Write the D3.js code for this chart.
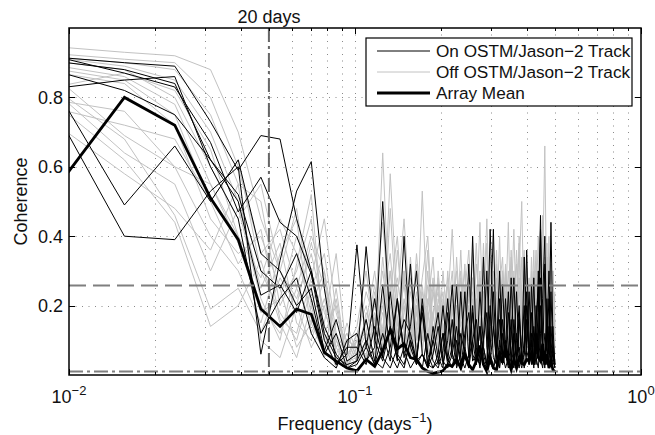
<!DOCTYPE html>
<html>
<head>
<meta charset="utf-8">
<script src="https://cdn.jsdelivr.net/npm/d3@7/dist/d3.min.js"></script>
<style>
  body { margin: 0; background: #fff; }
  svg { display: block; font-family: "Liberation Sans", Arial, Helvetica, sans-serif; }
</style>
</head>
<body>
<svg id="chart" width="655" height="435"></svg>
<script>
// Spectral bins: 128-day segments, bin spacing 1/128 cycles per day, up to Nyquist (0.5)
const binWidth = 1 / 128;
const bins = d3.range(1, 65);
const freq = bins.map(k => k * binWidth);

// Coherence of the array mean
const arrayMean = [0.47,0.80,0.72,0.51,0.39,0.19,0.14,0.19,0.175,0.065,0.04,0.02,
  0.012,0.045,0.025,0.07,0.13,0.075,0.09,0.05,0.045,0.02,0.01,0.005,0.008,
  0.012,0.03,0.025,0.045,0.02,0.06,0.03,0.015,0.04,0.085,0.03,0.01,0.05,
  0.02,0.015,0.06,0.035,0.085,0.04,0.015,0.045,0.02,0.05,0.035,0.03,0.045,
  0.04,0.06,0.03,0.12,0.05,0.04,0.09,0.03,0.06,0.02,0.04,0.015,0.01];

// Moorings on the OSTM/Jason-2 ground track
const onTrack1 = [0.92,0.90,0.89,0.73,0.59,0.69,0.68,0.45,0.30,0.12,0.05,0.03,
  0.04,0.10,0.03,0.26,0.06,0.02,0.08,0.32,0.05,0.02,0.12,0.04,0.02,
  0.07,0.22,0.05,0.03,0.12,0.06,0.03,0.40,0.08,0.02,0.10,0.18,0.04,
  0.02,0.08,0.30,0.06,0.02,0.05,0.16,0.04,0.12,0.06,0.03,0.10,0.36,
  0.08,0.03,0.14,0.06,0.30,0.05,0.02,0.12,0.07,0.22,0.04,0.06,0.03];
const onTrack2 = [0.93,0.87,0.83,0.67,0.47,0.57,0.44,0.40,0.29,0.10,0.03,0.06,
  0.375,0.08,0.03,0.12,0.04,0.22,0.07,0.02,0.05,0.18,0.03,0.02,0.06,
  0.20,0.05,0.02,0.10,0.03,0.07,0.32,0.06,0.03,0.14,0.04,0.02,0.08,
  0.24,0.05,0.02,0.16,0.06,0.03,0.10,0.28,0.05,0.02,0.08,0.20,0.05,
  0.03,0.26,0.08,0.03,0.10,0.42,0.06,0.02,0.10,0.30,0.04,0.08,0.03];
const onTrack3 = [0.89,0.82,0.75,0.62,0.52,0.30,0.25,0.35,0.22,0.06,0.12,0.02,
  0.04,0.37,0.10,0.04,0.14,0.05,0.02,0.10,0.03,0.22,0.06,0.02,0.04,
  0.12,0.03,0.08,0.26,0.05,0.02,0.06,0.18,0.04,0.24,0.08,0.03,0.42,
  0.14,0.03,0.10,0.04,0.22,0.06,0.02,0.16,0.05,0.08,0.03,0.34,0.07,
  0.04,0.12,0.03,0.20,0.06,0.28,0.08,0.03,0.16,0.05,0.24,0.06,0.02];
const onTrack4 = [0.82,0.85,0.86,0.60,0.45,0.12,0.22,0.28,0.12,0.05,0.02,0.10,
  0.12,0.04,0.08,0.50,0.14,0.04,0.40,0.08,0.03,0.06,0.02,0.10,0.18,
  0.04,0.02,0.06,0.14,0.03,0.08,0.02,0.20,0.05,0.03,0.10,0.30,0.06,
  0.02,0.05,0.16,0.04,0.08,0.24,0.05,0.02,0.10,0.20,0.04,0.06,0.16,
  0.03,0.08,0.28,0.05,0.02,0.12,0.22,0.40,0.06,0.03,0.14,0.05,0.02];
const onTrack5 = [0.91,0.49,0.66,0.50,0.62,0.35,0.30,0.20,0.25,0.07,0.16,0.04,
  0.06,0.16,0.04,0.02,0.08,0.22,0.05,0.14,0.30,0.06,0.03,0.10,0.03,
  0.12,0.04,0.16,0.02,0.06,0.24,0.05,0.10,0.03,0.14,0.06,0.02,0.20,
  0.05,0.03,0.08,0.26,0.06,0.02,0.05,0.12,0.03,0.18,0.06,0.02,0.10,
  0.24,0.05,0.03,0.08,0.18,0.46,0.04,0.07,0.03,0.14,0.08,0.03,0.04];
const onTrack6 = [0.85,0.40,0.39,0.53,0.60,0.06,0.33,0.53,0.615,0.25,0.03,0.08,
  0.08,0.03,0.14,0.05,0.24,0.06,0.03,0.10,0.04,0.20,0.02,0.06,0.14,
  0.03,0.10,0.26,0.05,0.02,0.12,0.18,0.04,0.06,0.03,0.34,0.08,0.03,
  0.14,0.05,0.22,0.03,0.10,0.04,0.28,0.06,0.02,0.16,0.04,0.08,0.24,
  0.05,0.18,0.03,0.10,0.05,0.20,0.04,0.32,0.08,0.03,0.06,0.14,0.03];
const onTrack7 = [0.91,0.88,0.84,0.62,0.50,0.23,0.26,0.18,0.30,0.14,0.06,0.02,
  0.03,0.08,0.22,0.05,0.02,0.08,0.16,0.12,0.04,0.06,0.02,0.14,0.05,
  0.02,0.18,0.06,0.03,0.24,0.05,0.02,0.10,0.16,0.04,0.08,0.03,0.14,
  0.42,0.06,0.02,0.12,0.05,0.18,0.03,0.08,0.24,0.05,0.02,0.06,0.20,
  0.04,0.10,0.02,0.16,0.26,0.05,0.08,0.03,0.22,0.06,0.44,0.10,0.03];

// Moorings away from the ground track
const offTrack1 = [0.95,0.93,0.92,0.88,0.70,0.45,0.30,0.22,0.35,0.18,0.10,0.05,
  0.12,0.20,0.08,0.64,0.14,0.05,0.22,0.10,0.35,0.16,0.06,0.24,0.12,
  0.04,0.18,0.30,0.10,0.22,0.15,0.06,0.20,0.12,0.28,0.08,0.16,0.34,
  0.10,0.22,0.05,0.14,0.30,0.18,0.08,0.26,0.12,0.40,0.16,0.06,0.20,
  0.28,0.10,0.24,0.14,0.20,0.08,0.30,0.66,0.16,0.06,0.22,0.10,0.14];
const offTrack2 = [0.93,0.91,0.90,0.80,0.60,0.35,0.42,0.25,0.15,0.28,0.06,0.12,
  0.05,0.15,0.30,0.10,0.58,0.20,0.08,0.14,0.04,0.26,0.10,0.18,0.06,
  0.22,0.12,0.05,0.16,0.30,0.08,0.20,0.12,0.04,0.25,0.14,0.38,0.10,
  0.18,0.06,0.24,0.12,0.32,0.08,0.20,0.14,0.05,0.28,0.10,0.22,0.16,
  0.06,0.30,0.12,0.20,0.40,0.10,0.16,0.26,0.08,0.34,0.14,0.20,0.10];
const offTrack3 = [0.92,0.90,0.88,0.75,0.55,0.50,0.20,0.30,0.45,0.12,0.20,0.04,
  0.06,0.08,0.24,0.12,0.30,0.06,0.18,0.28,0.10,0.53,0.14,0.05,0.20,
  0.10,0.26,0.12,0.06,0.18,0.32,0.10,0.22,0.14,0.05,0.20,0.45,0.12,
  0.08,0.28,0.14,0.20,0.06,0.16,0.34,0.10,0.24,0.08,0.18,0.12,0.30,
  0.14,0.06,0.22,0.36,0.12,0.18,0.08,0.26,0.14,0.40,0.12,0.06,0.18];
const offTrack4 = [0.92,0.89,0.85,0.70,0.50,0.25,0.38,0.15,0.10,0.22,0.08,0.02,
  0.10,0.12,0.06,0.18,0.10,0.36,0.14,0.05,0.20,0.12,0.30,0.08,0.16,
  0.06,0.20,0.42,0.12,0.08,0.24,0.14,0.05,0.18,0.30,0.10,0.16,0.26,
  0.12,0.36,0.08,0.20,0.14,0.06,0.26,0.18,0.10,0.30,0.50,0.14,0.08,
  0.22,0.12,0.30,0.06,0.18,0.28,0.10,0.20,0.34,0.12,0.24,0.08,0.16];
const offTrack5 = [0.91,0.88,0.80,0.60,0.45,0.55,0.30,0.48,0.20,0.05,0.15,0.10,
  0.08,0.06,0.14,0.30,0.12,0.22,0.45,0.16,0.08,0.24,0.12,0.06,0.30,
  0.14,0.08,0.22,0.12,0.36,0.10,0.18,0.28,0.06,0.16,0.22,0.10,0.30,
  0.20,0.14,0.40,0.10,0.24,0.16,0.06,0.20,0.32,0.12,0.18,0.08,0.26,
  0.10,0.34,0.16,0.08,0.24,0.14,0.46,0.12,0.20,0.08,0.28,0.16,0.06];
const offTrack6 = [0.90,0.86,0.78,0.55,0.40,0.20,0.12,0.25,0.40,0.30,0.05,0.02,
  0.08,0.16,0.04,0.22,0.35,0.10,0.20,0.06,0.14,0.28,0.40,0.12,0.08,
  0.20,0.14,0.06,0.24,0.16,0.30,0.10,0.18,0.38,0.12,0.06,0.22,0.14,
  0.26,0.10,0.18,0.06,0.28,0.12,0.20,0.42,0.14,0.08,0.24,0.16,0.10,
  0.18,0.26,0.08,0.30,0.14,0.22,0.10,0.16,0.38,0.12,0.20,0.26,0.08];
const offTrack7 = [0.89,0.85,0.75,0.50,0.62,0.30,0.18,0.10,0.25,0.35,0.12,0.06,
  0.03,0.10,0.20,0.44,0.16,0.06,0.12,0.26,0.18,0.08,0.20,0.34,0.10,
  0.16,0.28,0.10,0.20,0.06,0.14,0.26,0.12,0.32,0.18,0.10,0.24,0.16,
  0.08,0.20,0.12,0.30,0.18,0.44,0.10,0.14,0.22,0.06,0.34,0.20,0.12,
  0.24,0.14,0.08,0.20,0.30,0.16,0.24,0.12,0.20,0.30,0.10,0.16,0.22];
const offTrack8 = [0.88,0.84,0.72,0.45,0.35,0.40,0.25,0.08,0.15,0.06,0.25,0.03,
  0.12,0.05,0.18,0.10,0.24,0.40,0.12,0.06,0.20,0.10,0.16,0.28,0.08,
  0.30,0.12,0.20,0.08,0.16,0.26,0.12,0.36,0.10,0.18,0.08,0.28,0.14,
  0.20,0.10,0.26,0.34,0.12,0.20,0.08,0.16,0.24,0.38,0.12,0.20,0.14,
  0.08,0.22,0.12,0.32,0.20,0.10,0.26,0.14,0.22,0.10,0.18,0.30,0.12];
const offTrack9 = [0.90,0.69,0.60,0.40,0.30,0.15,0.35,0.45,0.12,0.20,0.05,0.08,
  0.14,0.30,0.10,0.20,0.06,0.16,0.26,0.10,0.32,0.14,0.06,0.18,0.24,
  0.10,0.16,0.06,0.34,0.14,0.20,0.10,0.24,0.16,0.44,0.12,0.18,0.08,
  0.26,0.14,0.10,0.22,0.18,0.30,0.12,0.20,0.10,0.16,0.26,0.36,0.12,
  0.18,0.10,0.28,0.14,0.22,0.36,0.12,0.20,0.10,0.24,0.14,0.30,0.10];
const offTrack10 = [0.86,0.64,0.55,0.30,0.48,0.22,0.10,0.32,0.52,0.10,0.03,0.15,
  0.06,0.12,0.26,0.08,0.48,0.14,0.30,0.10,0.18,0.06,0.22,0.12,0.16,
  0.24,0.08,0.18,0.12,0.28,0.10,0.20,0.14,0.08,0.22,0.30,0.12,0.18,
  0.10,0.32,0.16,0.12,0.24,0.10,0.36,0.14,0.22,0.12,0.18,0.28,0.10,
  0.20,0.14,0.36,0.10,0.24,0.18,0.14,0.28,0.12,0.18,0.32,0.14,0.10];
const offTrack11 = [0.86,0.68,0.46,0.19,0.25,0.12,0.28,0.20,0.08,0.15,0.35,0.05,
  0.10,0.04,0.16,0.22,0.08,0.12,0.30,0.18,0.06,0.14,0.36,0.10,0.20,
  0.12,0.22,0.08,0.18,0.10,0.24,0.36,0.14,0.20,0.10,0.16,0.30,0.12,
  0.22,0.08,0.18,0.26,0.12,0.16,0.28,0.10,0.20,0.14,0.24,0.10,0.34,
  0.16,0.12,0.20,0.26,0.10,0.30,0.16,0.22,0.10,0.26,0.16,0.12,0.20];
const offTrack12 = [0.82,0.62,0.44,0.14,0.20,0.33,0.15,0.05,0.20,0.30,0.10,0.02,
  0.08,0.08,0.06,0.14,0.26,0.10,0.08,0.34,0.12,0.20,0.08,0.16,0.28,
  0.06,0.14,0.20,0.10,0.24,0.08,0.18,0.12,0.26,0.10,0.38,0.14,0.20,
  0.12,0.24,0.10,0.18,0.08,0.22,0.14,0.30,0.12,0.20,0.10,0.16,0.24,
  0.12,0.20,0.10,0.18,0.28,0.12,0.20,0.34,0.14,0.22,0.10,0.18,0.12];
const offTrack13 = [0.82,0.87,0.82,0.65,0.40,0.28,0.45,0.35,0.18,0.08,0.22,0.04,
  0.05,0.10,0.06,0.34,0.12,0.20,0.08,0.14,0.24,0.10,0.18,0.06,0.22,
  0.14,0.10,0.26,0.16,0.08,0.20,0.12,0.28,0.18,0.10,0.24,0.14,0.22,
  0.16,0.10,0.20,0.28,0.14,0.24,0.12,0.18,0.36,0.14,0.22,0.12,0.20,
  0.26,0.14,0.18,0.12,0.24,0.16,0.32,0.14,0.22,0.16,0.26,0.12,0.16];
const offTrack14 = [0.80,0.76,0.60,0.55,0.38,0.18,0.22,0.40,0.30,0.12,0.02,0.10,
  0.04,0.18,0.12,0.08,0.20,0.28,0.14,0.06,0.22,0.12,0.10,0.26,0.14,
  0.08,0.30,0.14,0.20,0.10,0.16,0.22,0.10,0.18,0.26,0.12,0.20,0.14,
  0.30,0.12,0.20,0.16,0.10,0.26,0.14,0.20,0.12,0.24,0.16,0.12,0.22,
  0.14,0.28,0.12,0.20,0.16,0.26,0.12,0.24,0.16,0.20,0.14,0.28,0.14];
const offTrack15 = [0.78,0.72,0.68,0.50,0.32,0.42,0.16,0.12,0.28,0.45,0.18,0.06,
  0.10,0.24,0.16,0.10,0.20,0.08,0.28,0.12,0.18,0.10,0.26,0.14,0.08,
  0.20,0.12,0.18,0.30,0.14,0.10,0.24,0.16,0.22,0.12,0.18,0.26,0.10,
  0.20,0.14,0.28,0.12,0.22,0.18,0.12,0.26,0.16,0.20,0.14,0.30,0.12,
  0.20,0.16,0.24,0.14,0.20,0.28,0.16,0.24,0.12,0.22,0.18,0.14,0.24];
const offTrack16 = [0.76,0.58,0.48,0.36,0.55,0.10,0.05,0.20,0.38,0.25,0.08,0.12,
  0.05,0.08,0.22,0.12,0.30,0.16,0.10,0.24,0.14,0.20,0.08,0.18,0.26,
  0.12,0.20,0.14,0.24,0.10,0.18,0.28,0.12,0.20,0.16,0.24,0.12,0.18,
  0.14,0.22,0.12,0.30,0.16,0.20,0.12,0.24,0.18,0.14,0.26,0.16,0.12,
  0.22,0.18,0.14,0.26,0.12,0.20,0.16,0.28,0.12,0.18,0.22,0.16,0.10];

const onTrack = [onTrack1, onTrack2, onTrack3, onTrack4, onTrack5, onTrack6, onTrack7];
const offTrack = [offTrack1, offTrack2, offTrack3, offTrack4, offTrack5, offTrack6, offTrack7, offTrack8,
  offTrack9, offTrack10, offTrack11, offTrack12, offTrack13, offTrack14, offTrack15, offTrack16];

// Reference levels and the 20-day marker
const significance95 = 0.258;
const lowerLevel = 0.01;
const periodMarkerDays = 20;

const yTicks = [0.2, 0.4, 0.6, 0.8];
const xMajor = [0.01, 0.1, 1];
const xMinor = [0.02,0.03,0.04,0.05,0.06,0.07,0.08,0.09,0.2,0.3,0.4,0.5,0.6,0.7,0.8,0.9];
const xTickExp = ["\u22122", "\u22121", "0"];

const legendItems = [
  { label: "On OSTM/Jason\u22122 Track", color: "#000", width: 1 },
  { label: "Off OSTM/Jason\u22122 Track", color: "#c2c2c2", width: 1 },
  { label: "Array Mean", color: "#000", width: 2.8 }
];

// ---------------------------------------------------------------
const svg = d3.select("#chart");
const plot = { left: 69, right: 641, top: 28, bottom: 375 };

const x = d3.scaleLog().domain([0.01, 1]).range([plot.left, plot.right]);
const y = d3.scaleLinear().domain([0, 1]).range([plot.bottom, plot.top]);

svg.append("defs").append("clipPath").attr("id", "plotClip")
  .append("rect")
  .attr("x", plot.left).attr("y", plot.top)
  .attr("width", plot.right - plot.left).attr("height", plot.bottom - plot.top);

// dotted grid
const grid = svg.append("g").attr("stroke", "#8a8a8a").attr("stroke-width", 1)
  .attr("stroke-dasharray", "1,5.5");
grid.selectAll("line.gx").data(xMinor.concat([0.1])).join("line")
  .attr("x1", d => Math.round(x(d)) + 0.5).attr("x2", d => Math.round(x(d)) + 0.5)
  .attr("y1", plot.top).attr("y2", plot.bottom);
grid.selectAll("line.gy").data(yTicks).join("line")
  .attr("y1", d => Math.round(y(d)) + 0.5).attr("y2", d => Math.round(y(d)) + 0.5)
  .attr("x1", plot.left).attr("x2", plot.right);

const line = d3.line().x((d, i) => x(freq[i])).y(d => y(d));
const data = svg.append("g").attr("clip-path", "url(#plotClip)").attr("fill", "none")
  .attr("stroke-linejoin", "miter");

data.selectAll("path.off").data(offTrack).join("path")
  .attr("class", "off").attr("d", line)
  .attr("stroke", "#c2c2c2").attr("stroke-width", 1);
data.selectAll("path.on").data(onTrack).join("path")
  .attr("class", "on").attr("d", line)
  .attr("stroke", "#000").attr("stroke-width", 1);
data.append("path").datum(arrayMean).attr("d", line)
  .attr("stroke", "#000").attr("stroke-width", 2.8);

// reference lines
data.append("line")
  .attr("x1", plot.left).attr("x2", plot.right)
  .attr("y1", y(significance95)).attr("y2", y(significance95))
  .attr("stroke", "#7f7f7f").attr("stroke-width", 2).attr("stroke-dasharray", "17,7");
data.append("line")
  .attr("x1", plot.left).attr("x2", plot.right)
  .attr("y1", y(lowerLevel)).attr("y2", y(lowerLevel))
  .attr("stroke", "#7f7f7f").attr("stroke-width", 2).attr("stroke-dasharray", "14,4,3,4");
data.append("line")
  .attr("x1", x(1 / periodMarkerDays)).attr("x2", x(1 / periodMarkerDays))
  .attr("y1", plot.top).attr("y2", plot.bottom)
  .attr("stroke", "#666").attr("stroke-width", 2).attr("stroke-dasharray", "14,4,3,4");

// ticks on all four sides, pointing inward
const ticks = svg.append("g").attr("stroke", "#000").attr("stroke-width", 1);
xMajor.forEach(v => {
  const px = Math.round(x(v)) + 0.5;
  ticks.append("line").attr("x1", px).attr("x2", px).attr("y1", plot.bottom).attr("y2", plot.bottom - 6);
  ticks.append("line").attr("x1", px).attr("x2", px).attr("y1", plot.top).attr("y2", plot.top + 6);
});
xMinor.forEach(v => {
  const px = Math.round(x(v)) + 0.5;
  ticks.append("line").attr("x1", px).attr("x2", px).attr("y1", plot.bottom).attr("y2", plot.bottom - 3);
  ticks.append("line").attr("x1", px).attr("x2", px).attr("y1", plot.top).attr("y2", plot.top + 3);
});
yTicks.forEach(v => {
  const py = Math.round(y(v)) + 0.5;
  ticks.append("line").attr("x1", plot.left).attr("x2", plot.left + 6).attr("y1", py).attr("y2", py);
  ticks.append("line").attr("x1", plot.right).attr("x2", plot.right - 6).attr("y1", py).attr("y2", py);
});

// axes box
svg.append("rect")
  .attr("x", plot.left).attr("y", plot.top)
  .attr("width", plot.right - plot.left).attr("height", plot.bottom - plot.top)
  .attr("fill", "none").attr("stroke", "#000").attr("stroke-width", 1.5);

// tick labels
const fontSize = 18;
const supSize = 13;
svg.append("g").selectAll("text").data(yTicks).join("text")
  .attr("x", plot.left - 6).attr("y", d => y(d)).attr("dy", "0.36em")
  .attr("text-anchor", "end").attr("font-size", fontSize).attr("fill", "#111")
  .text(d => d3.format(".1f")(d));

const xl = svg.append("g").selectAll("text").data(xMajor).join("text")
  .attr("x", d => x(d)).attr("y", 403)
  .attr("text-anchor", "middle").attr("font-size", fontSize).attr("fill", "#111");
xl.append("tspan").text("10");
xl.append("tspan").attr("dy", -8).attr("font-size", supSize).text((d, i) => xTickExp[i]);

// axis titles
const xt = svg.append("text").attr("x", (plot.left + plot.right) / 2).attr("y", 430)
  .attr("text-anchor", "middle").attr("font-size", fontSize).attr("fill", "#111");
xt.append("tspan").text("Frequency (days");
xt.append("tspan").attr("dy", -8).attr("font-size", supSize).text("\u22121");
xt.append("tspan").attr("dy", 8).text(")");

svg.append("text")
  .attr("transform", `translate(27,${(plot.top + plot.bottom) / 2}) rotate(-90)`)
  .attr("text-anchor", "middle").attr("font-size", fontSize).attr("fill", "#111")
  .text("Coherence");

svg.append("text").attr("x", x(1 / periodMarkerDays)).attr("y", 23)
  .attr("text-anchor", "middle").attr("font-size", fontSize).attr("fill", "#111")
  .text(`${periodMarkerDays} days`);

// legend
const lg = svg.append("g").attr("transform", "translate(366,38)");
lg.append("rect").attr("width", 266).attr("height", 68)
  .attr("fill", "#fff").attr("stroke", "#000").attr("stroke-width", 1.2);
const row = lg.selectAll("g.row").data(legendItems).join("g")
  .attr("transform", (d, i) => `translate(0,${13 + i * 21})`);
row.append("line").attr("x1", 11).attr("x2", 64).attr("y1", 0).attr("y2", 0)
  .attr("stroke", d => d.color).attr("stroke-width", d => d.width);
row.append("text").attr("x", 70).attr("y", 0).attr("dy", "0.35em")
  .attr("font-size", 17.2).attr("fill", "#111").text(d => d.label);
</script>
</body>
</html>
